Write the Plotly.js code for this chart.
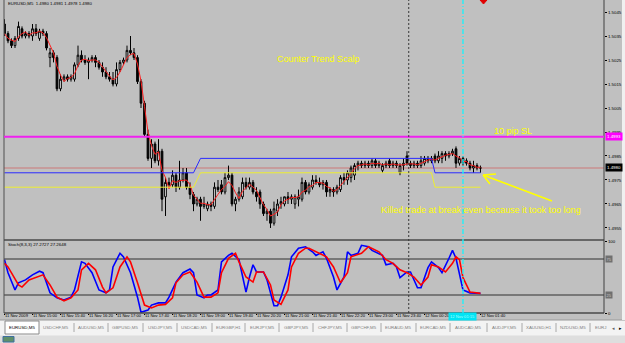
<!DOCTYPE html>
<html><head><meta charset="utf-8">
<script src="https://cdn.plot.ly/plotly-3.0.1.min.js"></script>
<style>html,body{margin:0;padding:0;background:#c0c0c0;overflow:hidden}#chart{width:625px;height:343px}</style>
</head><body><div id="chart"></div>
<script>
// ---------- data (EURUSD, M5, 11-12 Nov 2009) ----------
const barOpen = [
1.5040,1.5036,1.5033,1.5031,1.5034,1.5038,1.5035,1.5036,1.5035,1.5038,
1.5034,1.5037,1.5036,1.5026,1.5028,1.5026,1.5013,1.5017,1.5018,1.5017,
1.5017,1.5023,1.5027,1.5025,1.5024,1.5025,1.5026,1.5024,1.5022,1.5020,
1.5018,1.5017,1.5015,1.5021,1.5024,1.5025,1.5029,1.5028,1.5026,1.5016,
1.5007,1.4994,1.4984,1.4990,1.4983,1.4987,1.4968,1.4974,1.4973,1.4977,
1.4972,1.4975,1.4978,1.4972,1.4969,1.4965,1.4967,1.4964,1.4963,1.4965,
1.4964,1.4972,1.4973,1.4970,1.4976,1.4977,1.4965,1.4967,1.4968,1.4974,
1.4972,1.4974,1.4970,1.4970,1.4965,1.4961,1.4962,1.4957,1.4962,1.4965,
1.4965,1.4968,1.4967,1.4965,1.4967,1.4967,1.4974,1.4970,1.4972,1.4975,
1.4974,1.4973,1.4974,1.4970,1.4971,1.4970,1.4971,1.4976,1.4975,1.4976,
1.4977,1.4981,1.4982,1.4981,1.4982,1.4981,1.4983,1.4981,1.4979,1.4981,
1.4983,1.4981,1.4982,1.4978,1.4981,1.4985,1.4982,1.4981,1.4982,1.4981,
1.4982,1.4984,1.4983,1.4985,1.4983,1.4984,1.4986,1.4985,1.4986,1.4988,
1.4982,1.4984,1.4983,1.4982,1.4980,1.4981,1.4980];
const barHigh = [
1.5042,1.5037,1.5034,1.5035,1.5041,1.5039,1.5037,1.5037,1.5040,1.5040,
1.5038,1.5038,1.5037,1.5030,1.5029,1.5027,1.5019,1.5019,1.5019,1.5019,
1.5024,1.5031,1.5029,1.5027,1.5026,1.5027,1.5027,1.5025,1.5024,1.5022,
1.5020,1.5020,1.5024,1.5025,1.5026,1.5031,1.5035,1.5030,1.5027,1.5017,
1.5008,1.4996,1.4992,1.4991,1.4992,1.4988,1.4976,1.4976,1.4979,1.4978,
1.4983,1.4980,1.4980,1.4974,1.4970,1.4968,1.4968,1.4968,1.4966,1.4966,
1.4974,1.4975,1.4975,1.4978,1.4981,1.4978,1.4968,1.4972,1.4976,1.4976,
1.4976,1.4975,1.4972,1.4971,1.4966,1.4963,1.4963,1.4966,1.4967,1.4968,
1.4968,1.4970,1.4969,1.4969,1.4971,1.4976,1.4975,1.4974,1.4977,1.4977,
1.4976,1.4975,1.4975,1.4972,1.4972,1.4973,1.4977,1.4978,1.4979,1.4981,
1.4982,1.4983,1.4983,1.4983,1.4983,1.4984,1.4984,1.4983,1.4982,1.4983,
1.4984,1.4983,1.4983,1.4982,1.4984,1.4987,1.4983,1.4983,1.4983,1.4985,
1.4985,1.4985,1.4985,1.4986,1.4987,1.4987,1.4987,1.4987,1.4988,1.4989,
1.4985,1.4985,1.4984,1.4983,1.4983,1.4982,1.4981];
const barLow = [
1.5035,1.5032,1.5030,1.5030,1.5033,1.5034,1.5034,1.5034,1.5033,1.5035,
1.5033,1.5035,1.5029,1.5022,1.5024,1.5012,1.5012,1.5016,1.5016,1.5016,
1.5016,1.5022,1.5024,1.5023,1.5017,1.5024,1.5022,1.5021,1.5018,1.5017,
1.5016,1.5014,1.5014,1.5020,1.5023,1.5024,1.5027,1.5025,1.5015,1.5005,
1.4993,1.4983,1.4980,1.4982,1.4981,1.4962,1.4960,1.4972,1.4972,1.4970,
1.4971,1.4974,1.4971,1.4967,1.4962,1.4964,1.4958,1.4963,1.4962,1.4962,
1.4963,1.4970,1.4969,1.4969,1.4975,1.4964,1.4962,1.4966,1.4967,1.4971,
1.4971,1.4969,1.4966,1.4963,1.4960,1.4958,1.4955,1.4956,1.4960,1.4963,
1.4964,1.4965,1.4965,1.4963,1.4964,1.4966,1.4969,1.4969,1.4971,1.4973,
1.4972,1.4971,1.4968,1.4968,1.4968,1.4969,1.4970,1.4973,1.4973,1.4974,
1.4975,1.4979,1.4980,1.4980,1.4980,1.4980,1.4980,1.4980,1.4978,1.4980,
1.4980,1.4980,1.4980,1.4977,1.4979,1.4981,1.4980,1.4980,1.4980,1.4980,
1.4981,1.4982,1.4982,1.4982,1.4982,1.4982,1.4983,1.4984,1.4985,1.4980,
1.4981,1.4981,1.4981,1.4979,1.4978,1.4979,1.4978];
const barClose = [
1.5036,1.5033,1.5031,1.5034,1.5039,1.5035,1.5036,1.5035,1.5038,1.5036,
1.5037,1.5036,1.5030,1.5028,1.5026,1.5013,1.5017,1.5018,1.5017,1.5018,
1.5023,1.5027,1.5025,1.5024,1.5025,1.5026,1.5024,1.5022,1.5020,1.5018,
1.5017,1.5015,1.5021,1.5024,1.5025,1.5029,1.5028,1.5026,1.5016,1.5007,
1.4994,1.4984,1.4990,1.4983,1.4987,1.4967,1.4974,1.4973,1.4977,1.4972,
1.4975,1.4978,1.4972,1.4969,1.4965,1.4967,1.4964,1.4965,1.4965,1.4964,
1.4972,1.4971,1.4970,1.4976,1.4977,1.4965,1.4967,1.4970,1.4974,1.4972,
1.4974,1.4970,1.4968,1.4965,1.4961,1.4962,1.4957,1.4963,1.4965,1.4966,
1.4968,1.4967,1.4968,1.4968,1.4968,1.4974,1.4970,1.4973,1.4975,1.4974,
1.4973,1.4974,1.4970,1.4971,1.4970,1.4972,1.4976,1.4975,1.4978,1.4980,
1.4981,1.4982,1.4981,1.4982,1.4981,1.4983,1.4981,1.4982,1.4981,1.4982,
1.4981,1.4982,1.4981,1.4981,1.4982,1.4982,1.4981,1.4982,1.4981,1.4983,
1.4984,1.4983,1.4984,1.4983,1.4985,1.4986,1.4985,1.4986,1.4987,1.4982,
1.4984,1.4982,1.4982,1.4980,1.4981,1.4980,1.4980];
// red moving-average line
const maValues = [
1.50360,1.50340,1.50333,1.50327,1.50347,1.50360,1.50367,1.50353,1.50363,1.50363,
1.50370,1.50363,1.50343,1.50313,1.50280,1.50223,1.50187,1.50160,1.50173,1.50177,
1.50193,1.50227,1.50250,1.50253,1.50247,1.50250,1.50250,1.50240,1.50220,1.50200,
1.50183,1.50167,1.50177,1.50200,1.50233,1.50260,1.50273,1.50277,1.50233,1.50163,
1.50057,1.49950,1.49893,1.49857,1.49867,1.49790,1.49760,1.49713,1.49747,1.49740,
1.49747,1.49750,1.49750,1.49730,1.49687,1.49670,1.49653,1.49653,1.49647,1.49647,
1.49670,1.49690,1.49710,1.49723,1.49743,1.49727,1.49697,1.49673,1.49703,1.49720,
1.49733,1.49720,1.49707,1.49677,1.49647,1.49627,1.49600,1.49607,1.49617,1.49647,
1.49663,1.49670,1.49677,1.49677,1.49680,1.49700,1.49707,1.49723,1.49727,1.49740,
1.49740,1.49737,1.49723,1.49717,1.49703,1.49710,1.49727,1.49743,1.49763,1.49777,
1.49797,1.49810,1.49813,1.49817,1.49813,1.49820,1.49817,1.49820,1.49813,1.49817,
1.49813,1.49817,1.49813,1.49813,1.49813,1.49817,1.49817,1.49817,1.49813,1.49820,
1.49827,1.49833,1.49837,1.49833,1.49840,1.49847,1.49853,1.49857,1.49860,1.49850,
1.49843,1.49827,1.49827,1.49813,1.49810,1.49803,1.49803];
// stepped envelope lines (vertices: bar index, price)
const blueBandBar = [0, 54, 56, 122, 123, 136];
const blueBandVal = [1.4978, 1.4978, 1.4984, 1.4984, 1.4978, 1.4978];
const yellowBandBar = [0, 54, 56, 122, 123, 136];
const yellowBandVal = [1.4972, 1.4972, 1.4978, 1.4978, 1.4972, 1.4972];
const stopLossLevel = 1.4993;
const bidLevel = 1.4980;
// Stochastic(8,3,3)
const stochMainBar = [0,1,3,4,6,8,10,11,13,15,17,19,20,22,23,25,27,29,30,31,33,34,36,38,39,41,42,44,46,47,49,50,51,53,54,55,57,58,59,61,62,64,65,67,68,69,70,71,72,74,75,77,78,79,81,82,84,86,88,89,91,92,94,95,97,98,99,101,102,104,105,108,109,111,112,113,115,116,118,119,121,122,124,125,127,128,129,130,131,133,134,136];
const stochMainVal = [74,56,32,42,46,53,58,56,28,21,18,22,32,71,69,56,32,28,32,64,83,78,56,22,1,4,11,14,14,22,43,50,56,61,56,25,21,25,25,32,71,80,83,74,50,29,50,67,57,57,46,10,10,22,53,78,90,92,85,80,85,76,50,32,50,85,80,83,94,92,87,80,67,69,64,49,57,57,35,35,63,71,63,56,76,87,76,56,32,28,28,27.2727];
const stochSigBar = [0,1,4,5,7,9,11,13,15,17,19,21,22,24,26,28,29,31,33,35,36,38,40,42,44,46,48,49,51,53,55,57,59,61,62,64,66,67,69,71,72,74,76,77,79,81,82,84,86,87,89,92,94,96,98,99,102,104,107,109,111,113,115,117,119,121,122,124,126,128,129,130,131,133,136];
const stochSigVal = [69,64,39,36,46,50,53,39,22,17,21,32,60,69,60,36,28,35,64,78,71,42,11,7,11,12,21,42,53,57,43,22,22,28,56,76,83,71,50,43,57,57,39,18,12,32,64,83,90,90,85,78,64,42,56,78,83,92,85,74,69,60,56,50,39,50,67,64,57,69,78,74,49,29,27.2648];
const stochLevels = [75, 25];
// axis labels (bar 0 = 11 Nov 14:20, 5-minute bars)
const priceTicks = [1.4955,1.4965,1.4975,1.4985,1.4995,1.5005,1.5015,1.5025,1.5035,1.5045];
const timeTickBars = [0,8,16,24,32,40,48,56,64,72,80,88,96,104,112,120,136];
const timeTickLabels = ['11 Nov 2009','11 Nov 15:00','11 Nov 15:40','11 Nov 16:20','11 Nov 17:00','11 Nov 17:40','11 Nov 18:20','11 Nov 19:00','11 Nov 19:40','11 Nov 20:20','11 Nov 21:00','11 Nov 21:40','11 Nov 22:20','11 Nov 23:00','11 Nov 23:40','12 Nov 00:20','12 Nov 01:40'];
const separatorBar = 115.5;   // day separator, 12 Nov 00:00
const cursorBar = 131;
const cursorLabel = '12 Nov 01:15';
const tabLabels = ['EURUSD,M5','USDCHF,M5','AUDUSD,M5','GBPUSD,M5','USDJPY,M5','USDCAD,M5','EURGBP,H1','EURJPY,M5','GBPJPY,M5','CHFJPY,M5','GBPCHF,M5','EURAUD,M5','EURCAD,M5','AUDCAD,M5','AUDJPY,M5','XAUUSD,H1','NZDUSD,M5','EURJ'];
const headerText = 'EURUSD,M5  1.4980 1.4981 1.4978 1.4980';
const stochText = 'Stoch(8,3,3) 27.2727 27.2648';

// ---------- layout helpers ----------
const W = 625, H = 343;
const px = x => x / W;
const py = y => 1 - y / H;
const FONT = 'Liberation Sans, Arial, sans-serif';
const barIndex = barClose.map((_, i) => i);
const xRange = [-0.143, 171.29];

const traces = [
  {type:'candlestick', x:barIndex, open:barOpen, high:barHigh, low:barLow, close:barClose,
   xaxis:'x', yaxis:'y', whiskerwidth:0, hoverinfo:'skip', showlegend:false,
   increasing:{line:{color:'#000000', width:1}, fillcolor:'#ffffff'},
   decreasing:{line:{color:'#000000', width:1}, fillcolor:'#000000'}},
  {type:'scatter', mode:'lines', x:barIndex, y:maValues, xaxis:'x', yaxis:'y',
   line:{color:'#ff2020', width:1}, hoverinfo:'skip'},
  {type:'scatter', mode:'lines', x:blueBandBar, y:blueBandVal, xaxis:'x', yaxis:'y',
   line:{color:'#2a2aff', width:1}, hoverinfo:'skip'},
  {type:'scatter', mode:'lines', x:yellowBandBar, y:yellowBandVal, xaxis:'x', yaxis:'y',
   line:{color:'#eeee30', width:1}, hoverinfo:'skip'},
  {type:'scatter', mode:'lines', x:stochMainBar, y:stochMainVal, xaxis:'x2', yaxis:'y2',
   line:{color:'#0000ff', width:1.6}, hoverinfo:'skip'},
  {type:'scatter', mode:'lines', x:stochSigBar, y:stochSigVal, xaxis:'x2', yaxis:'y2',
   line:{color:'#ff0000', width:1.6}, hoverinfo:'skip'}
];

const shapes = [];
const line = (x0,y0,x1,y1,color,width,extra) => Object.assign({type:'line', xref:'paper', yref:'paper',
  x0:px(x0), x1:px(x1), y0:py(y0), y1:py(y1), line:{color:color, width:width}}, extra||{});
// window chrome
shapes.push({type:'rect', xref:'paper', yref:'paper', x0:0, x1:1, y0:0, y1:py(320), fillcolor:'#f3f3f3', line:{width:0}, layer:'below'});
shapes.push({type:'rect', xref:'paper', yref:'paper', x0:0, x1:1, y0:0, y1:py(335.5), fillcolor:'#dedede', line:{width:0}, layer:'below'});
shapes.push(line(0,320,625,320,'#9a9a9a',1));
shapes.push({type:'rect', xref:'paper', yref:'paper', x0:px(622), x1:1, y0:py(320), y1:1, fillcolor:'#f0f0f0', line:{width:0}});
shapes.push({type:'rect', xref:'paper', yref:'paper', x0:px(5), x1:px(39), y0:py(334), y1:py(321), fillcolor:'#ffffff', line:{color:'#8a8a8a', width:1}});
[74,108,143,177,212,245,279,313,347,381,416,450,487,522,556,590].forEach(sx => shapes.push(line(sx,323,sx,332,'#a8a8a8',1)));
shapes.push({type:'rect', xref:'paper', yref:'paper', x0:px(3), x1:px(14), y0:py(342), y1:py(336.5), fillcolor:'#5f8f6a', line:{color:'#3f6fa0', width:1}});
// panel frames
shapes.push(line(4,0,4,313,'#505050',1));
shapes.push(line(4,240,604,240,'#4a4a4a',1.5));
shapes.push(line(4,313,604,313,'#4a4a4a',1.5));
shapes.push(line(604,0,604,313,'#404040',1));
// price lines
shapes.push({type:'line', xref:'paper', yref:'y', x0:px(4), x1:px(604), y0:bidLevel, y1:bidLevel, line:{color:'#c89090', width:1.6}, layer:'below'});
shapes.push({type:'line', xref:'paper', yref:'y', x0:px(4), x1:px(604), y0:stopLossLevel, y1:stopLossLevel, line:{color:'#f020f0', width:2}});
stochLevels.forEach(lv => shapes.push({type:'line', xref:'paper', yref:'y2', x0:px(4), x1:px(604), y0:lv, y1:lv, line:{color:'#606060', width:1.5}, layer:'below'}));
// vertical lines
shapes.push({type:'line', xref:'x', yref:'paper', x0:separatorBar, x1:separatorBar, y0:py(313), y1:1, line:{color:'#383838', width:1, dash:'2px,2px'}});
shapes.push({type:'line', xref:'x', yref:'paper', x0:cursorBar, x1:cursorBar, y0:py(314), y1:1, line:{color:'#20f0f8', width:1.4, dash:'5px,2px,1px,2px'}});
// yellow hand-drawn arrow
shapes.push(line(552,201,483,175,'#ffff00',1.5));
shapes.push(line(483,175,496,174,'#ffff00',1.5));
shapes.push(line(483,175,490,184,'#ffff00',1.5));
// red marker at top
shapes.push({type:'path', xref:'paper', yref:'paper',
  path:`M ${px(480)} ${py(0)} L ${px(487)} ${py(0)} L ${px(483.5)} ${py(4)} Z`, fillcolor:'#e00000', line:{color:'#e00000', width:1}});

const ann = [];
const txt = (x,y,t,size,color,extra) => Object.assign({xref:'paper', yref:'paper', x:px(x), y:py(y), text:t, showarrow:false,
  font:{family:FONT, size:size, color:color}, xanchor:'center', yanchor:'middle'}, extra||{});
ann.push(txt(6,4,headerText,4.3,'#000',{xanchor:'left'}));
ann.push(txt(6,244,stochText,4.4,'#000',{xanchor:'left'}));
ann.push(txt(318,59,'Counter Trend Scalp',9,'#ffff00'));
ann.push(txt(513,131,'10 pip SL',9,'#ffff00'));
ann.push(txt(481,210,'Killed trade at break even because it took too long',9,'#ffff00'));
// price boxes
ann.push({xref:'paper', yref:'y', x:px(604.5), y:stopLossLevel, xanchor:'left', yanchor:'middle', text:stopLossLevel.toFixed(4), showarrow:false,
  bgcolor:'#ff00ff', borderpad:1, font:{family:FONT, size:4.4, color:'#ffffff'}});
ann.push({xref:'paper', yref:'y', x:px(604.5), y:bidLevel, xanchor:'left', yanchor:'middle', text:bidLevel.toFixed(4), showarrow:false,
  bgcolor:'#000000', borderpad:1, font:{family:FONT, size:4.4, color:'#ffffff'}});
stochLevels.forEach(lv => ann.push({xref:'paper', yref:'y2', x:px(604.5), y:lv, xanchor:'left', yanchor:'middle', text:String(lv), showarrow:false,
  bgcolor:'#707070', borderpad:0.5, font:{family:FONT, size:4, color:'#c8c8c8'}}));
// cursor time box
ann.push({xref:'x', yref:'paper', x:cursorBar, y:py(316.7), xanchor:'center', yanchor:'middle', text:cursorLabel, showarrow:false,
  bgcolor:'#00e4f4', borderpad:1, font:{family:FONT, size:4.1, color:'#a8ffff'}});
// tabs
const tabCenters = [22,56,91,125,160,194,228,262,296,330,364,398,433,468,504,539,573,600];
tabLabels.forEach((t,i) => ann.push(txt(tabCenters[i],327.5,t,4.4, i===0 ? '#000' : '#808080')));
ann.push(txt(613,327.5,'◂',5,'#606060'));
ann.push(txt(620,327.5,'▸',5,'#000'));

const layout = {
  width:W, height:H, margin:{l:0,r:0,t:0,b:0},
  paper_bgcolor:'#c0c0c0', plot_bgcolor:'#c0c0c0', showlegend:false,
  font:{family:FONT, size:5, color:'#000'},
  xaxis:{domain:[px(4), px(604)], range:xRange, anchor:'y', showticklabels:false, showgrid:false,
    zeroline:false, showline:false, ticks:'', rangeslider:{visible:false}, fixedrange:true},
  xaxis2:{domain:[px(4), px(604)], range:xRange, matches:'x', anchor:'y2', tickmode:'array',
    tickvals:timeTickBars, ticktext:timeTickLabels, ticks:'outside', ticklen:1, tickcolor:'#000',
    tickangle:0, ticklabelposition:'outside right', ticklabelstandoff:-2,
    tickfont:{family:FONT, size:4.1, color:'#000'},
    showgrid:false, zeroline:false, showline:false},
  yaxis:{domain:[py(238), 1], range:[1.495083, 1.5050], side:'right', anchor:'x', tickmode:'array',
    tickvals:priceTicks, ticktext:priceTicks.map(v => v.toFixed(4)), ticks:'outside', ticklen:2,
    tickcolor:'#000', tickfont:{family:FONT, size:4.4, color:'#000'}, showgrid:false, zeroline:false, showline:false},
  yaxis2:{domain:[py(313), py(241)], range:[0,100], side:'right', anchor:'x2', tickmode:'array',
    tickvals:[0,100], ticktext:['0','100'], ticks:'outside', ticklen:2, tickcolor:'#000',
    tickfont:{family:FONT, size:4.4, color:'#000'}, showgrid:false, zeroline:false, showline:false},
  shapes:shapes, annotations:ann
};
Plotly.newPlot('chart', traces, layout, {staticPlot:true, displayModeBar:false});
</script></body></html>
